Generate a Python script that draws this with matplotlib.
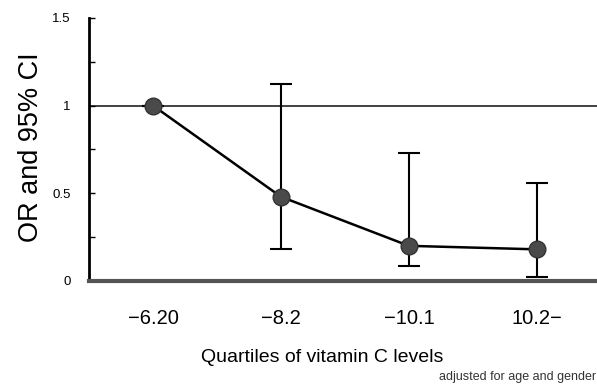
import matplotlib
matplotlib.use("Agg")
import matplotlib.pyplot as plt
from matplotlib.ticker import FixedLocator

# Data
quartiles = ["\u22126.20", "\u22128.2", "\u221210.1", "10.2\u2212"]
odds_ratio = [1.0, 0.48, 0.20, 0.18]
ci_lower = [1.0, 0.18, 0.085, 0.02]
ci_upper = [1.0, 1.125, 0.73, 0.56]
ytick_vals = [0, 0.5, 1, 1.5]
ytick_text = ["0", "0.5", "1", "1.5"]

plt.rcParams["font.family"] = ["Liberation Sans", "DejaVu Sans"]

fig = plt.figure(figsize=(5.97, 3.88), dpi=100)
ax = fig.add_axes([0.149, 0.276, 0.851, 0.678])

xs = list(range(1, len(quartiles) + 1))
err_lo = [o - l for o, l in zip(odds_ratio, ci_lower)]
err_hi = [u - o for o, u in zip(odds_ratio, ci_upper)]

# reference line at OR = 1
ax.axhline(1.0, color="#333333", lw=1.3, zorder=1)

ax.errorbar(xs, odds_ratio, yerr=[err_lo, err_hi], fmt="none",
            ecolor="black", elinewidth=1.5, capsize=8, capthick=1.5, zorder=2)
ax.plot(xs, odds_ratio, color="black", lw=1.8, zorder=3)
ax.plot(xs, odds_ratio, "o", color="#4a4a4a", markersize=12,
        markeredgecolor="#333333", zorder=4)

ax.set_xlim(0.5, 4.47)
ax.set_ylim(0, 1.5)

ax.spines["top"].set_visible(False)
ax.spines["right"].set_visible(False)
ax.spines["left"].set_linewidth(2)
ax.spines["bottom"].set_linewidth(3)
ax.spines["bottom"].set_color("#555555")

ax.set_xticks(xs)
ax.set_xticklabels(quartiles, fontsize=14.5)
ax.tick_params(axis="x", length=0, pad=20)

ax.set_yticks(ytick_vals)
ax.set_yticklabels(ytick_text, fontsize=9.5)
ax.yaxis.set_minor_locator(FixedLocator([0.25, 0.75, 1.25]))
ax.tick_params(axis="y", which="both", direction="in", length=4, width=1, pad=13)

ax.set_ylabel("OR and 95% CI", fontsize=19.5)
ax.yaxis.set_label_coords(-0.088, 0.51)
ax.set_xlabel("Quartiles of vitamin C levels", fontsize=14)
ax.xaxis.set_label_coords(0.459, -0.26)

fig.text(0.998, 0.028, "adjusted for age and gender", fontsize=9,
         ha="right", va="center", color="#333333")

fig.savefig("out.png", dpi=100)
